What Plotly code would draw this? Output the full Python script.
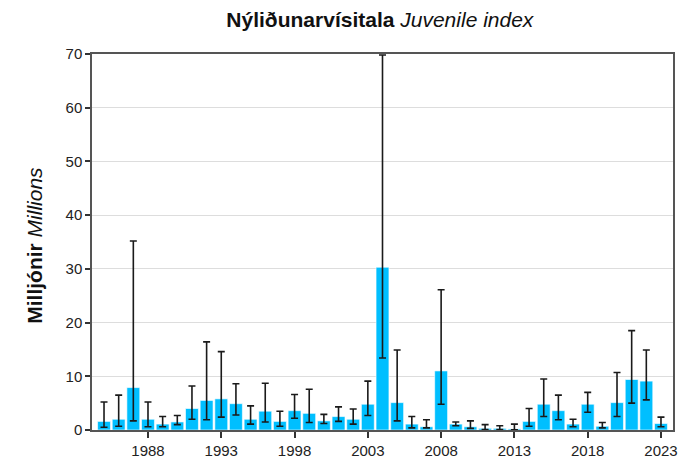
import plotly.graph_objects as go

years = list(range(1985, 2024))
index_values = [1.6, 2.0, 7.9, 2.0, 1.1, 1.5, 4.0, 5.5, 5.8, 4.9,
                2.0, 3.5, 1.6, 3.6, 3.1, 1.7, 2.5, 2.0, 4.8, 30.3,
                5.1, 1.1, 0.6, 11.0, 1.1, 0.6, 0.3, 0.3, 0.2, 1.6,
                4.8, 3.6, 1.1, 4.8, 0.7, 5.1, 9.4, 9.1, 1.2]
upper = [5.2, 6.5, 35.2, 5.2, 2.5, 2.7, 8.2, 16.4, 14.6, 8.6,
         4.5, 8.7, 3.5, 6.6, 7.6, 2.9, 4.3, 3.9, 9.1, 69.8,
         14.9, 2.5, 1.9, 26.1, 1.5, 1.7, 1.0, 0.8, 1.1, 4.0,
         9.5, 6.5, 2.0, 7.0, 1.4, 10.7, 18.5, 14.9, 2.4]
lower = [0.5, 0.7, 1.7, 0.6, 0.6, 1.0, 2.0, 1.9, 2.4, 2.8,
         1.1, 1.5, 0.7, 2.2, 1.4, 1.2, 1.6, 1.1, 2.7, 13.4,
         1.7, 0.4, 0.4, 4.8, 0.8, 0.3, 0.1, 0.1, 0.05, 0.7,
         2.5, 1.9, 0.6, 3.3, 0.4, 2.5, 5.0, 5.6, 0.6]
tick_years = [1988, 1993, 1998, 2003, 2008, 2013, 2018, 2023]
y_ticks = [0, 10, 20, 30, 40, 50, 60, 70]

err_plus = [u - v for u, v in zip(upper, index_values)]
err_minus = [v - l for v, l in zip(index_values, lower)]

fig = go.Figure()
fig.add_trace(go.Bar(
    x=years, y=index_values, width=0.88,
    marker=dict(color="#00BFFF", line=dict(color="rgba(255,255,255,0.6)", width=1)),
    error_y=dict(type="data", symmetric=False, array=err_plus, arrayminus=err_minus,
                 color="#1a1a1a", thickness=1.6, width=3.5),
    showlegend=False,
))

font = "Liberation Sans, Arial, Helvetica, sans-serif"
fig.update_layout(
    width=699, height=460,
    margin=dict(l=84, r=34, t=46, b=38),
    paper_bgcolor="white", plot_bgcolor="white",
    font=dict(family=font, size=15, color="#222222"),
    title=dict(text="<b>Nýliðunarvísitala</b> <i>Juvenile index</i>",
               x=0.532, xanchor="center", y=0.974, yanchor="middle",
               font=dict(size=21, color="#111111", family=font)),
    bargap=0.1,
    annotations=[dict(
        text="<b>Milljónir</b> <i>Millions</i>", textangle=-90,
        xref="paper", yref="paper", x=0, y=0.49, xanchor="center", yanchor="middle",
        xshift=-57, showarrow=False,
        font=dict(size=21, color="#111111", family=font),
    )],
)
fig.update_xaxes(
    range=[1984.18, 2023.82], tickvals=tick_years, ticktext=[str(t) for t in tick_years],
    ticks="outside", ticklen=6, tickwidth=2, tickcolor="#333333",
    showline=True, linecolor="#555555", linewidth=1.5, mirror=True,
    showgrid=False, zeroline=False, automargin=False,
)
fig.update_yaxes(
    range=[0, 70], tickvals=y_ticks,
    ticks="outside", ticklen=5, tickwidth=1.5, tickcolor="#333333",
    showline=True, linecolor="#555555", linewidth=1.5, mirror=True,
    showgrid=True, gridcolor="#DDDDDD", gridwidth=1.2, zeroline=False,
    automargin=False,
)

fig.write_html("out.html")
